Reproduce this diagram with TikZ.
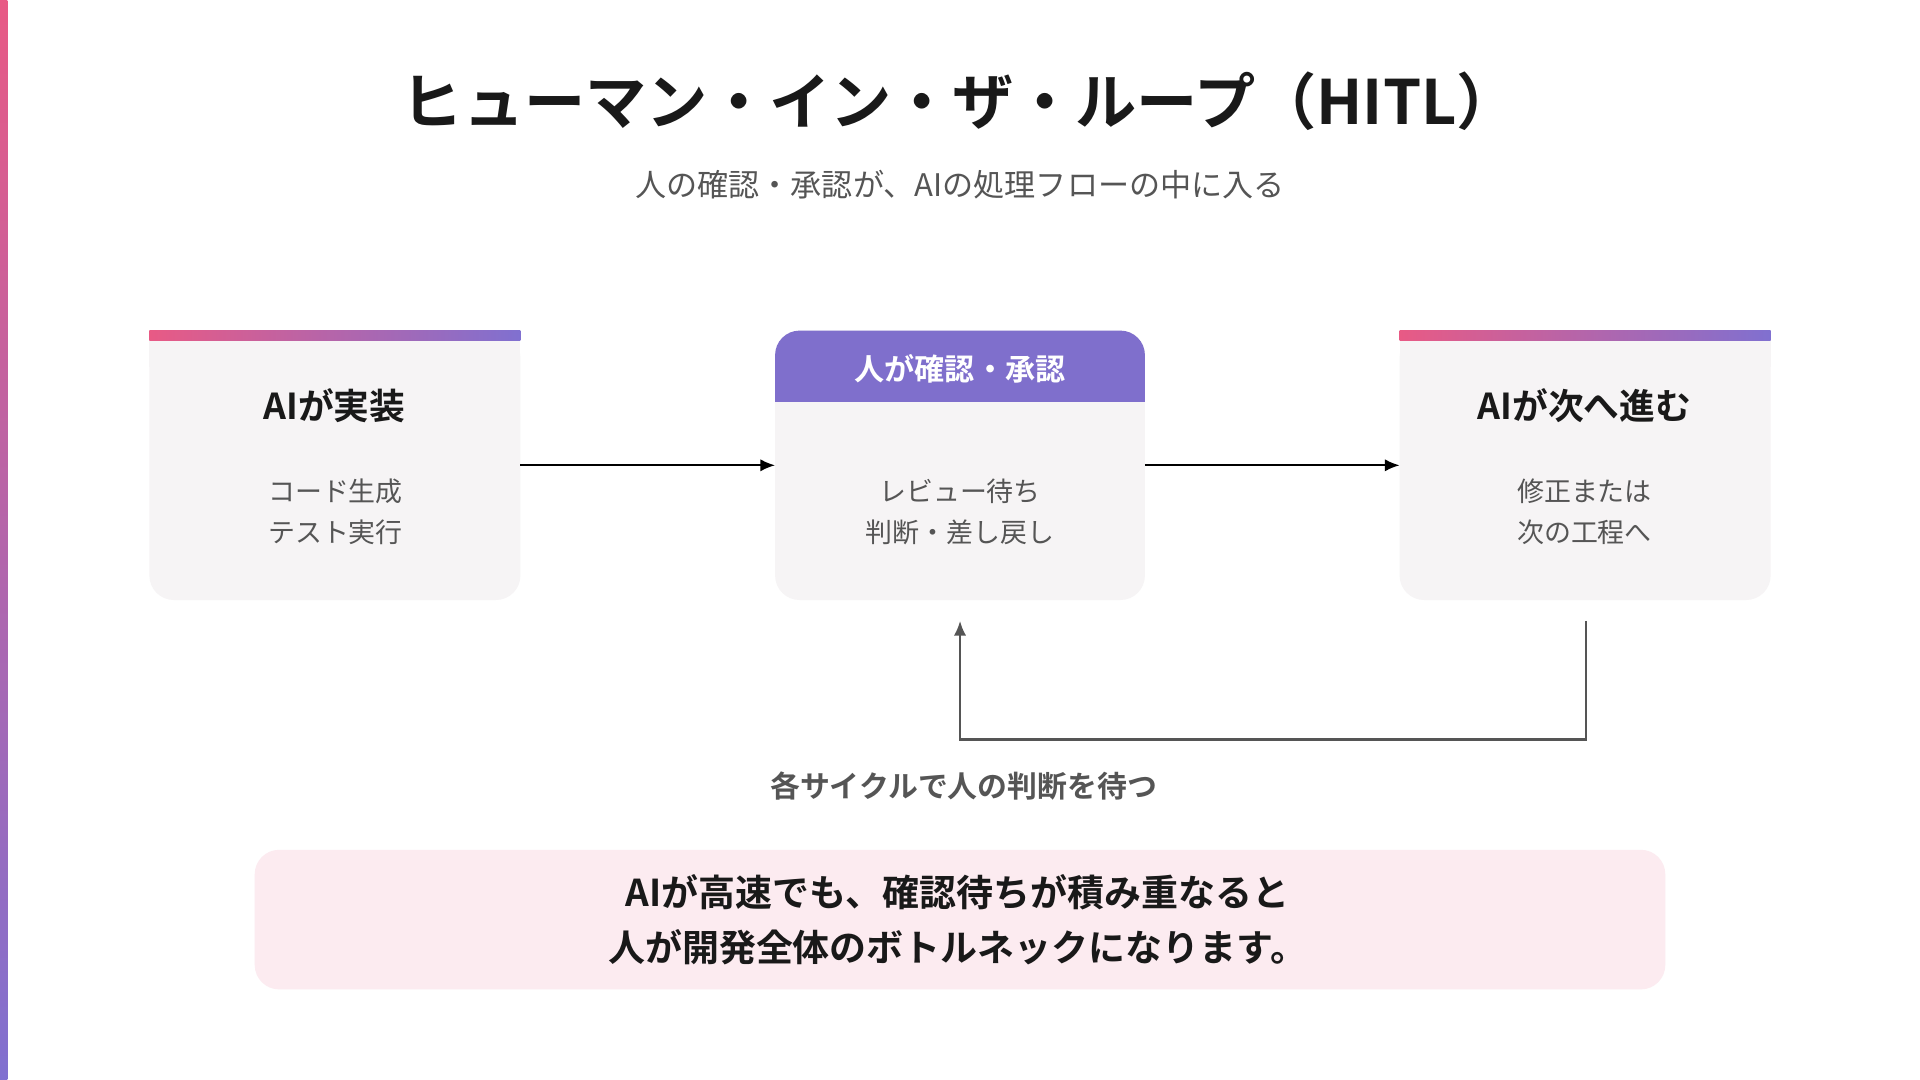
\documentclass[tikz,border=0pt]{standalone}
\usepackage{fontspec}
\setmainfont{Noto Sans CJK JP}
\newfontfamily\jpb{Noto Sans CJK JP Bold}
\usetikzlibrary{arrows.meta}
\definecolor{pinkc}{HTML}{E85A85}
\definecolor{purpc}{HTML}{8070D0}
\definecolor{boxc}{HTML}{F6F4F5}
\definecolor{headc}{HTML}{7F6FCC}
\definecolor{grayt}{HTML}{555555}
\definecolor{noteb}{HTML}{FCEBF0}
\begin{document}
\begin{tikzpicture}[x=0.5pt,y=-0.5pt,
  card/.style={fill=boxc, rounded corners=10pt},
  ttl/.style={font=\jpb\fontsize{14.6}{16}\selectfont, text=black!90},
  body/.style={font=\fontsize{11}{17}\selectfont, text=grayt, align=center},
  flow/.style={-{Latex[length=6pt,width=5pt]}, line width=0.8pt}]
\useasboundingbox (0,0) rectangle (1568,882);
\fill[white] (0,0) rectangle (1568,882);
\shade[top color=pinkc, bottom color=purpc] (0,0) rectangle (6,882);
\node[font=\jpb\fontsize{25}{28}\selectfont, text=black!90] (title) at (784,83) {ヒューマン・イン・ザ・ループ（HITL）};
\node[font=\fontsize{12.7}{14}\selectfont, text=grayt] (sub) at (784,151) {人の確認・承認が、AIの処理フローの中に入る};
% box 1
\fill[boxc, rounded corners=10pt] (122,272) rectangle (425,490);
\fill[boxc] (122,272) rectangle (425,300);
\shade[left color=pinkc, right color=purpc] (122,270) rectangle (425,278);
\node[ttl] (t1) at (273,331) {AIが実装};
\node[body] (b1) at (274,418) {コード生成\\テスト実行};
\coordinate (r1) at (425,380);
% box 2
\fill[boxc, rounded corners=10pt] (633,270) rectangle (935,490);
\fill[headc, rounded corners=10pt] (633,270) rectangle (935,328);
\fill[headc] (633,300) rectangle (935,328);
\node[font=\jpb\fontsize{12.3}{13}\selectfont, text=white] (t2) at (784,301) {人が確認・承認};
\node[body] (b2) at (784,418) {レビュー待ち\\判断・差し戻し};
\coordinate (l2) at (633,380);
\coordinate (r2) at (935,380);
\coordinate (bot2) at (784,507);
% box 3
\fill[boxc, rounded corners=10pt] (1143,272) rectangle (1446,490);
\fill[boxc] (1143,272) rectangle (1446,300);
\shade[left color=pinkc, right color=purpc] (1143,270) rectangle (1446,278);
\node[ttl] (t3) at (1294,331) {AIが次へ進む};
\node[body] (b3) at (1294,418) {修正または\\次の工程へ};
\coordinate (l3) at (1143,380);
\coordinate (bot3) at (1295,507);
\draw[flow] (r1) -- (l2);
\draw[flow] (r2) -- (l3);
\draw[flow, grayt, line width=1pt] (bot3) -- (1295,604) -- (784,604) -- (bot2);
\node[font=\jpb\fontsize{12.2}{13}\selectfont, text=grayt] (lab) at (787,642) {各サイクルで人の判断を待つ};
\fill[noteb, rounded corners=10pt] (208,694) rectangle (1360,808);
\node[font=\jpb\fontsize{15.1}{22.5}\selectfont, text=black!90, align=center] (note) at (782,751) {AIが高速でも、確認待ちが積み重なると\\人が開発全体のボトルネックになります。};
\end{tikzpicture}
\end{document}
